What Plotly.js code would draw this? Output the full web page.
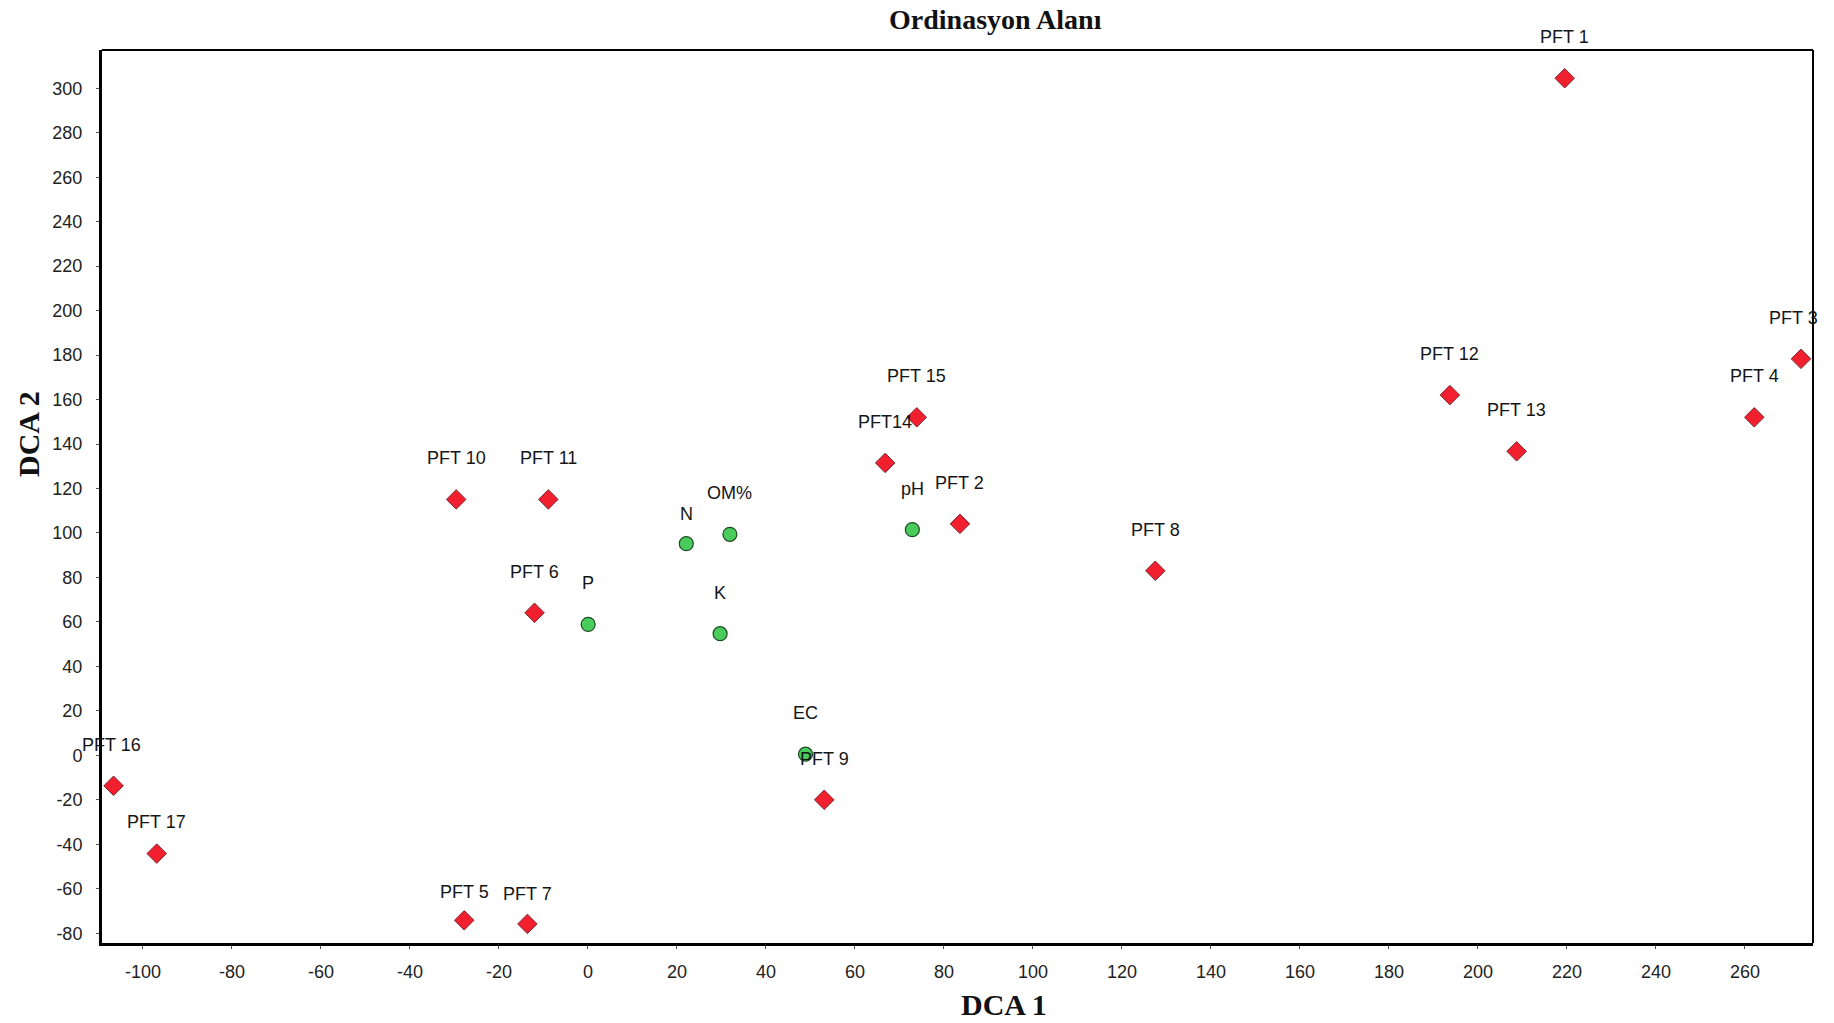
<!DOCTYPE html>
<html>
<head>
<meta charset="utf-8">
<script src="https://cdn.plot.ly/plotly-3.0.1.min.js"></script>
<style>
html,body{margin:0;padding:0;background:#fff;}
#chart{width:1834px;height:1023px;}
</style>
</head>
<body>
<div id="chart"></div>
<script>
// Sites (PFT) scores
const siteLabels = ['PFT 1','PFT 2','PFT 3','PFT 4','PFT 5','PFT 6','PFT 7','PFT 8','PFT 9','PFT 10','PFT 11','PFT 12','PFT 13','PFT14','PFT 15','PFT 16','PFT 17'];
const siteX = [219.5, 83.6, 272.6, 262.1, -27.8, -12.0, -13.6, 127.5, 53.1, -29.6, -8.9, 193.7, 208.7, 66.8, 73.9, -106.6, -96.9];
const siteY = [304.5, 104.1, 178.3, 152.0, -74.2, 64.1, -75.8, 83.0, -20.0, 115.1, 115.1, 162.0, 136.7, 131.5, 152.0, -13.7, -44.2];

// Soil variables
const varLabels = ['N','OM%','P','K','pH','EC'];
const varX = [22.1, 31.9, 0.05, 29.7, 72.9, 48.9];
const varY = [95.2, 99.4, 58.9, 54.7, 101.5, 0.5];

// Axis ticks
const xTicks = [-100,-80,-60,-40,-20,0,20,40,60,80,100,120,140,160,180,200,220,240,260];
const yTicks = [-80,-60,-40,-20,0,20,40,60,80,100,120,140,160,180,200,220,240,260,280,300];

const labelFont = {family: 'Liberation Sans, Arial, sans-serif', size: 18, color: '#151515'};
// label offsets (pixels above the point) where they differ from the default
const labelShift = {'N': 30, 'PFT 5': 28, 'PFT 7': 30, 'PFT 17': 32};
const labelXShift = {'PFT 3': -7, 'PFT 16': -2};

const traces = [
  {
    type: 'scatter', mode: 'markers', x: siteX, y: siteY, name: 'PFT',
    marker: {symbol: 'diamond', size: 15, color: '#f2202e', line: {color: '#7a2a33', width: 1}},
    cliponaxis: false
  },
  {
    type: 'scatter', mode: 'markers', x: varX, y: varY, name: 'Variables',
    marker: {symbol: 'circle', size: 14, color: '#49cc5c', line: {color: '#1f4a22', width: 1.2}},
    cliponaxis: false
  }
];

const annotations = [];
siteLabels.forEach((t, i) => annotations.push({
  x: siteX[i], y: siteY[i], xref: 'x', yref: 'y', text: t, showarrow: false,
  yshift: labelShift[t] || 41, xshift: labelXShift[t] || 0, font: labelFont
}));
varLabels.forEach((t, i) => annotations.push({
  x: varX[i], y: varY[i], xref: 'x', yref: 'y', text: t, showarrow: false,
  yshift: labelShift[t] || 41, xshift: labelXShift[t] || 0, font: labelFont
}));
const titleFont = {family: 'Liberation Serif, Times New Roman, serif', size: 30, color: '#111'};
annotations.push({xref: 'paper', yref: 'paper', x: 0.527, y: 0, yshift: -61, xanchor: 'center', yanchor: 'middle',
  text: '<b>DCA 1</b>', showarrow: false, font: titleFont});
annotations.push({xref: 'paper', yref: 'paper', x: 0, xshift: -73, y: 0.57, xanchor: 'center', yanchor: 'middle',
  text: '<b>DCA 2</b>', textangle: -90, showarrow: false, font: titleFont});
annotations.push({xref: 'paper', yref: 'paper', x: 0.522, y: 1, yshift: 31, xanchor: 'center', yanchor: 'middle',
  text: '<b>Ordinasyon Alanı</b>', showarrow: false,
  font: {family: 'Liberation Serif, Times New Roman, serif', size: 28, color: '#111'}});

const layout = {
  width: 1834, height: 1023,
  margin: {l: 102, r: 21, t: 50, b: 80},
  paper_bgcolor: '#ffffff', plot_bgcolor: '#ffffff',
  showlegend: false,
  xaxis: {
    range: [-109.2, 275.3], tickvals: xTicks, ticktext: xTicks.map(String),
    showgrid: false, zeroline: false, showline: true, linecolor: '#000', linewidth: 3,
    ticks: 'outside', ticklen: 3, tickcolor: '#555', ticklabelstandoff: 7,
    tickfont: {family: 'Liberation Sans, Arial, sans-serif', size: 18, color: '#222'}
  },
  yaxis: {
    range: [-84.4, 317.2], tickvals: yTicks, ticktext: yTicks.map(String),
    showgrid: false, zeroline: false, showline: true, linecolor: '#000', linewidth: 3,
    ticks: 'outside', ticklen: 3, tickcolor: '#555', ticklabelstandoff: 10,
    tickfont: {family: 'Liberation Sans, Arial, sans-serif', size: 18, color: '#222'}
  },
  shapes: [
    {type: 'line', xref: 'paper', yref: 'paper', x0: 0, x1: 1, y0: 1, y1: 1, line: {color: '#000', width: 2}},
    {type: 'line', xref: 'paper', yref: 'paper', x0: 1, x1: 1, y0: 0, y1: 1, line: {color: '#000', width: 2}}
  ],
  annotations: annotations
};

Plotly.newPlot('chart', traces, layout, {staticPlot: true, displayModeBar: false});
</script>
</body>
</html>
